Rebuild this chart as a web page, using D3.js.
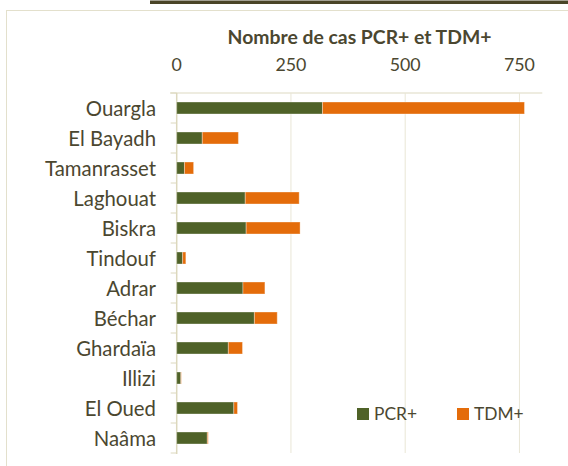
<!DOCTYPE html>
<html>
<head>
<meta charset="utf-8">
<script src="https://cdn.jsdelivr.net/npm/d3@7"></script>
<style>
  body { margin: 0; background: #fff; }
  svg { display: block; font-family: Lato, "Open Sans", sans-serif; }
</style>
</head>
<body>
<div id="chart"></div>
<script>
// wilayas, top to bottom
const regions = ['Ouargla', 'El Bayadh', 'Tamanrasset', 'Laghouat', 'Biskra', 'Tindouf',
                 'Adrar', 'Béchar', 'Ghardaïa', 'Illizi', 'El Oued', 'Naâma'];
const pcr = [319, 56, 17, 150, 152, 13, 145, 170, 113, 9, 125, 67];
const tdm = [442, 79, 20, 118, 118, 7, 48, 50, 31, 1, 8, 2];
const xTicks = [0, 250, 500, 750];
const seriesKeys = ['PCR+', 'TDM+'];

const W = 568, H = 466;
const textColor = '#4b4730';
const gridColor = '#e9e6d6';
const axisColor = '#dcd8bd';
const colors = { 'PCR+': '#4f6228', 'TDM+': '#e46c0a' };

const svg = d3.select('#chart').append('svg')
    .attr('width', W).attr('height', H);

// the installed fonts are not Calibri, so size text to match the widths in the picture
function fitSize(str, weight, targetWidth) {
    const t = svg.append('text').attr('font-size', 20).attr('font-weight', weight).text(str);
    const w = t.node().getComputedTextLength();
    t.remove();
    return 20 * targetWidth / w;
}
const labelSize = fitSize('Tamanrasset', 'normal', 111);
const titleSize = fitSize('Nombre de cas PCR+ et TDM+', 'bold', 264);
const tickSize = fitSize('250', 'normal', 31);
const legendSize = fitSize('PCR+', 'normal', 43);

// document underline above the chart
svg.append('rect').attr('x', 150).attr('y', 0.5).attr('width', W - 150).attr('height', 3.5)
    .attr('fill', '#4a4528');

// chart frame
svg.append('rect').attr('x', 6.5).attr('y', 10.5).attr('width', W).attr('height', H)
    .attr('fill', 'none').attr('stroke', '#e3e0cc');

const plotL = 176.7, plotR = 542.3, plotT = 93, plotB = 453;

const x = d3.scaleLinear().domain([0, 800]).range([plotL, plotR]);
const y = d3.scaleBand().domain(regions).range([plotT, plotB]).paddingInner(0.6).paddingOuter(0.3);
const yb = d3.scaleBand().domain(regions).range([plotT, plotB]);

// gridlines
svg.append('g').selectAll('line').data(xTicks.slice(1)).enter().append('line')
    .attr('x1', d => x(d)).attr('x2', d => x(d))
    .attr('y1', plotT).attr('y2', plotB)
    .attr('stroke', gridColor).attr('stroke-width', 1);

// top axis line
svg.append('line').attr('x1', 170).attr('x2', plotR).attr('y1', plotT).attr('y2', plotT)
    .attr('stroke', gridColor).attr('stroke-width', 1.5);

// category axis with ticks at band boundaries
svg.append('line').attr('x1', plotL).attr('x2', plotL).attr('y1', plotT).attr('y2', plotB + 1)
    .attr('stroke', axisColor).attr('stroke-width', 1.5);
const bounds = regions.map(r => yb(r)).concat([plotB]);
svg.append('g').selectAll('line').data(bounds).enter().append('line')
    .attr('x1', plotL - 6).attr('x2', plotL).attr('y1', d => d).attr('y2', d => d)
    .attr('stroke', axisColor).attr('stroke-width', 1);

// x tick labels
svg.append('g').selectAll('text').data(xTicks).enter().append('text')
    .attr('x', d => x(d)).attr('y', 70.5)
    .attr('text-anchor', 'middle')
    .attr('font-size', tickSize).attr('fill', textColor)
    .text(d => d);

// title
svg.append('text').attr('x', 359.5).attr('y', 43.5)
    .attr('text-anchor', 'middle').attr('font-size', titleSize).attr('font-weight', 'bold')
    .attr('fill', textColor).text('Nombre de cas PCR+ et TDM+');

// category labels
svg.append('g').selectAll('text').data(regions).enter().append('text')
    .attr('x', 156).attr('y', d => yb(d) + yb.bandwidth() / 2 + 7.5)
    .attr('text-anchor', 'end').attr('font-size', labelSize).attr('fill', textColor)
    .text(d => d);

// stacked bars
const rows = regions.map((r, i) => ({ region: r, 'PCR+': pcr[i], 'TDM+': tdm[i] }));
const stacked = d3.stack().keys(seriesKeys)(rows);
svg.append('g').selectAll('g').data(stacked).enter().append('g')
    .attr('fill', d => colors[d.key])
    .selectAll('rect').data(d => d).enter().append('rect')
    .attr('x', d => x(d[0]))
    .attr('y', d => y(d.data.region))
    .attr('width', d => x(d[1]) - x(d[0]))
    .attr('height', y.bandwidth())
    .attr('stroke', 'rgba(255,255,255,0.35)').attr('stroke-width', 1);

// legend
const legend = svg.append('g').selectAll('g').data(seriesKeys).enter().append('g')
    .attr('transform', (d, i) => `translate(${357 + i * 100}, 408)`);
legend.append('rect').attr('width', 12).attr('height', 12).attr('fill', d => colors[d]);
legend.append('text').attr('x', 17).attr('y', 11.5).attr('font-size', legendSize)
    .attr('fill', textColor).text(d => d);
</script>
</body>
</html>
